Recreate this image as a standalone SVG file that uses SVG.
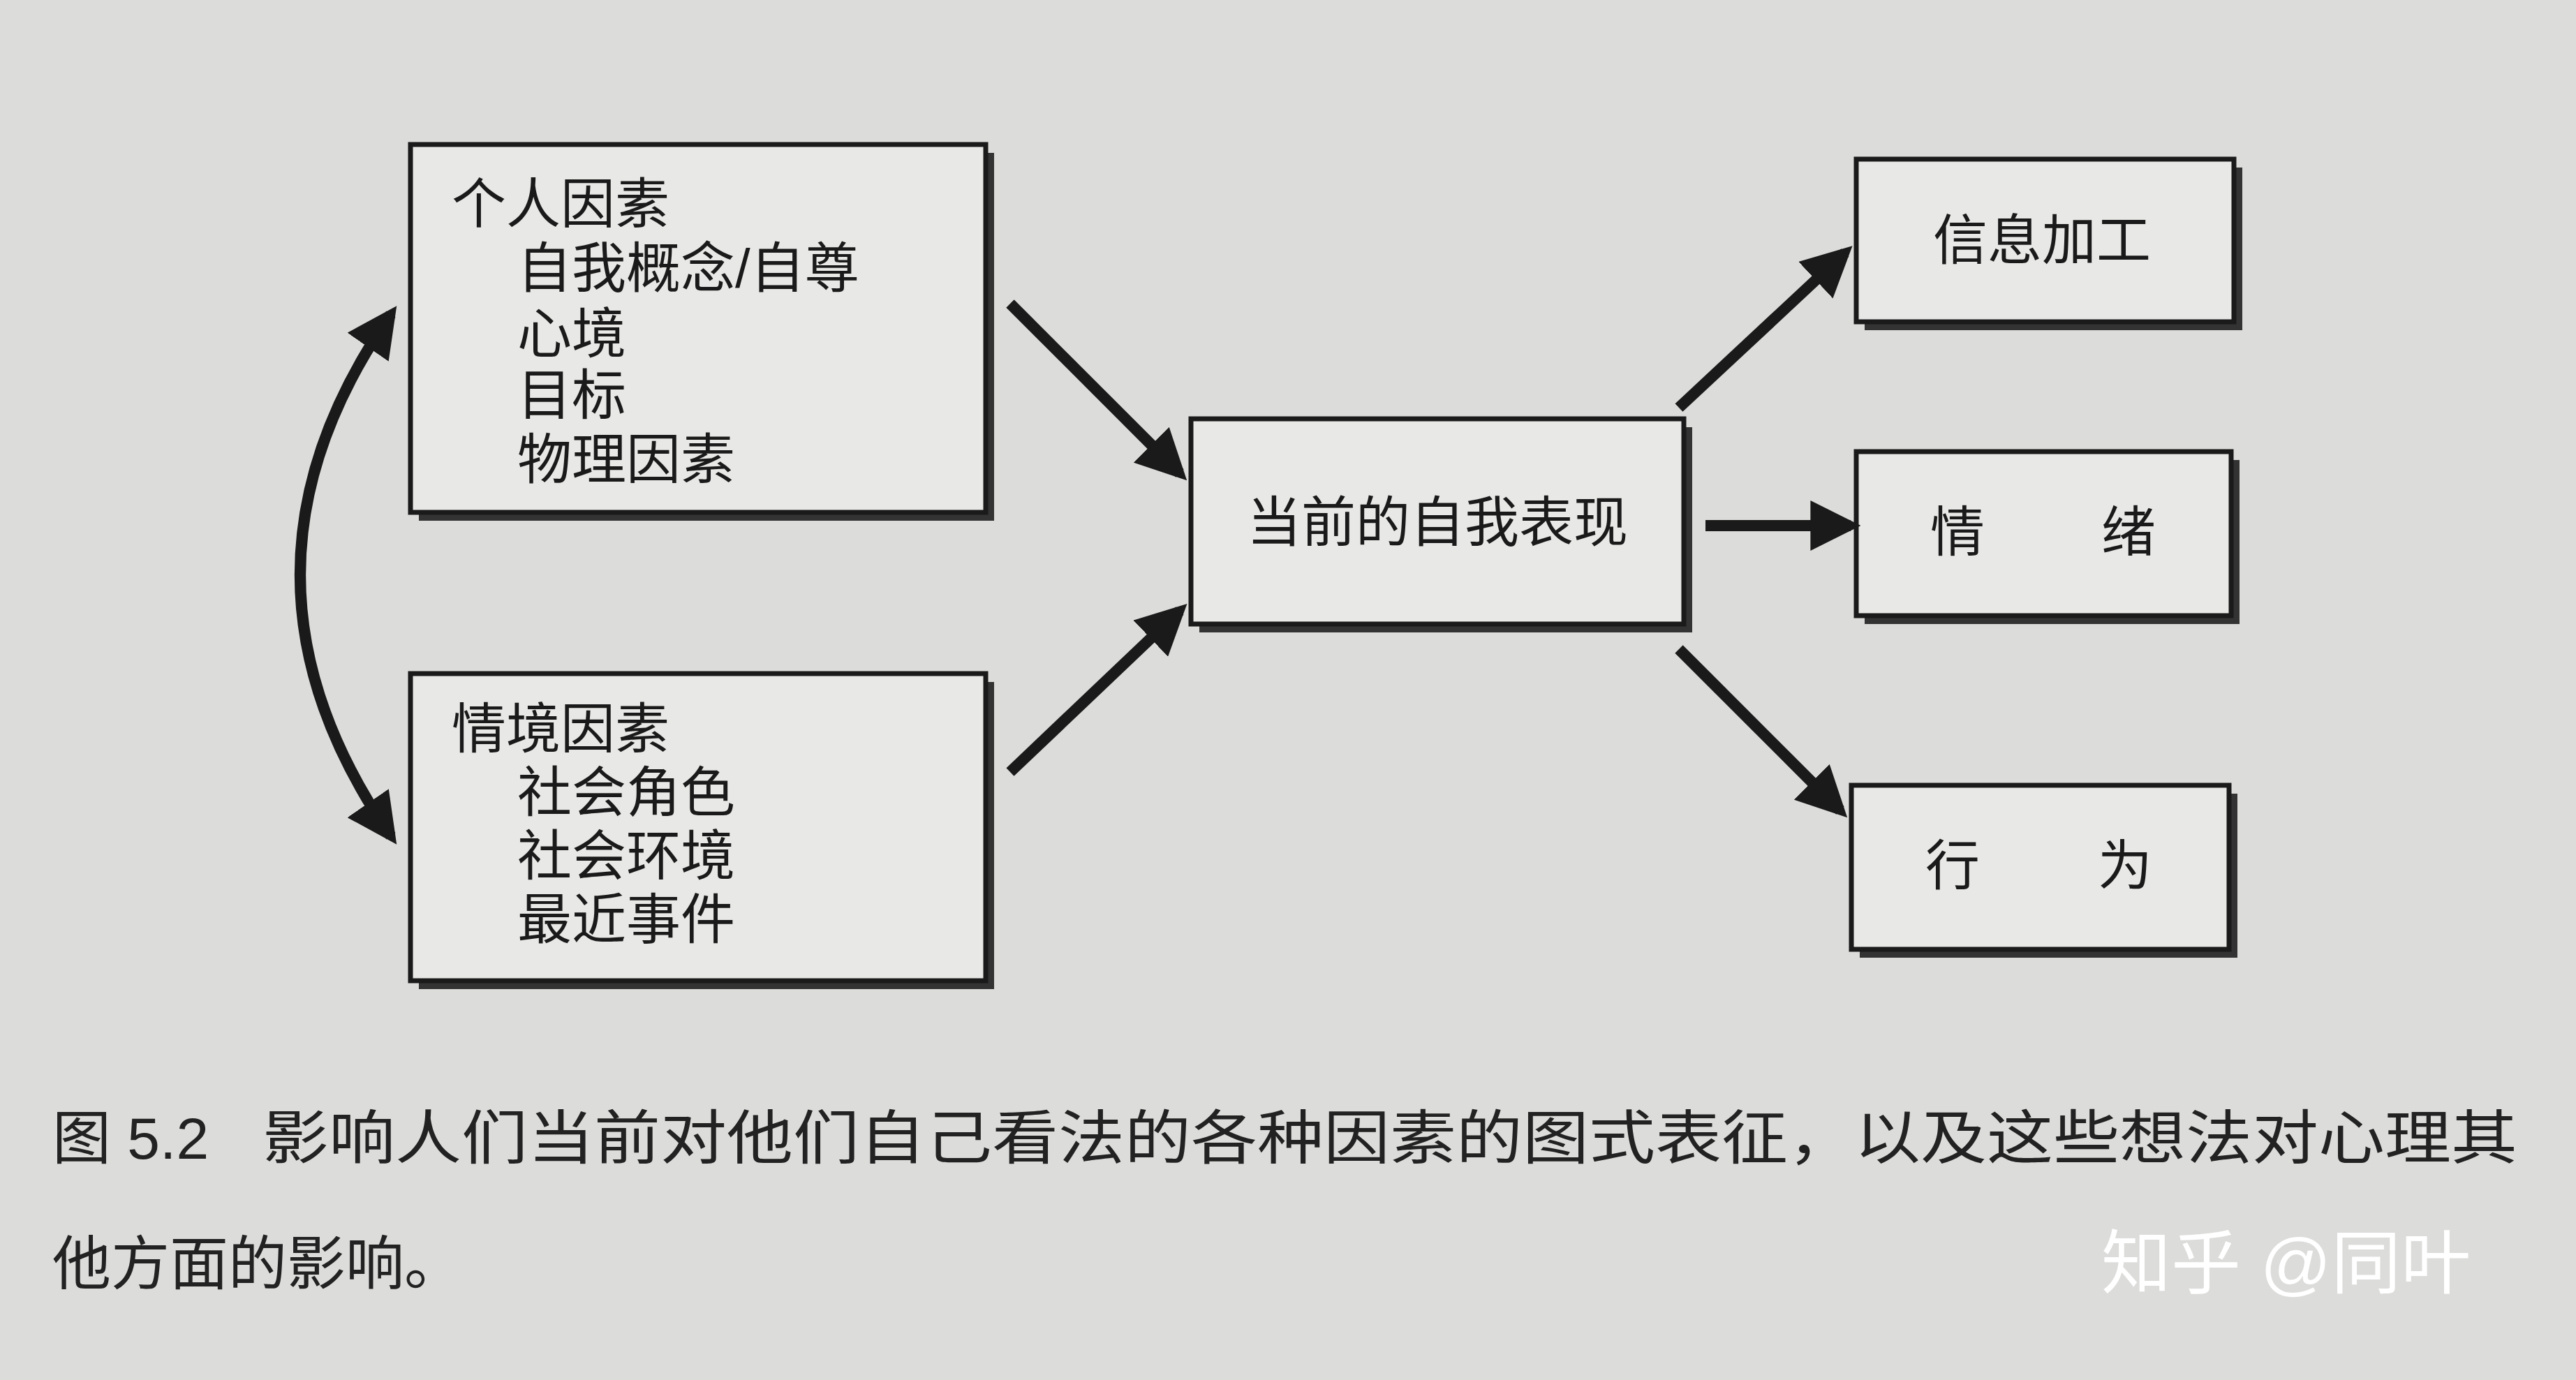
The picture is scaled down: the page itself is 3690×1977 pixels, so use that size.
<svg xmlns="http://www.w3.org/2000/svg" width="3690" height="1977" viewBox="0 0 3690 1977">
<defs>
<style>
.box{fill:#e8e8e6;stroke:#1a1a1a;stroke-width:7}
.sh{fill:#333}
.t{font-family:"Liberation Sans","Noto Sans CJK SC",sans-serif;font-size:78px;fill:#1a1a1a}
.c{font-family:"Liberation Sans","Noto Sans CJK SC",sans-serif;font-size:84px;fill:#222}
.a{stroke:#1a1a1a;stroke-width:16;fill:none;marker-end:url(#ah)}
</style>
<marker id="ah" viewBox="0 0 10 10" refX="8" refY="5" markerWidth="4.5" markerHeight="4.5" orient="auto-start-reverse"><path d="M0,0 L10,5 L0,10 Z" fill="#1a1a1a"/></marker>
</defs>
<rect width="3690" height="1977" fill="#dcdcda"/>
<g id="personal"><rect class="sh" x="600" y="219" width="824" height="527"/><rect class="box" x="588" y="207" width="824" height="527"/>
<text class="t" x="647" y="320">个人因素</text><text class="t" x="741" y="412">自我概念/自尊</text><text class="t" x="741" y="506">心境</text><text class="t" x="741" y="594">目标</text><text class="t" x="741" y="686">物理因素</text></g>
<g id="situational"><rect class="sh" x="600" y="977" width="824" height="440"/><rect class="box" x="588" y="965" width="824" height="440"/>
<text class="t" x="647" y="1072">情境因素</text><text class="t" x="741" y="1163">社会角色</text><text class="t" x="741" y="1254">社会环境</text><text class="t" x="741" y="1345">最近事件</text></g>
<g id="current"><rect class="sh" x="1718" y="612" width="706" height="294"/><rect class="box" x="1706" y="600" width="706" height="294"/>
<text class="t" x="2059" y="776" text-anchor="middle">当前的自我表现</text></g>
<g id="info"><rect class="sh" x="2671" y="240" width="541" height="233"/><rect class="box" x="2659" y="228" width="541" height="233"/>
<text class="t" x="2925" y="372" text-anchor="middle">信息加工</text></g>
<g id="emotion"><rect class="sh" x="2671" y="659" width="537" height="235"/><rect class="box" x="2659" y="647" width="537" height="235"/>
<text class="t" x="2765" y="790">情</text><text class="t" x="3010" y="790">绪</text></g>
<g id="behavior"><rect class="sh" x="2664" y="1137" width="541" height="235"/><rect class="box" x="2652" y="1125" width="541" height="235"/>
<text class="t" x="2758" y="1268">行</text><text class="t" x="3005" y="1268">为</text></g>
<g id="connectors">
<path class="a" d="M1447,435 L1690,678"/>
<path class="a" d="M1447,1106 L1690,875"/>
<path class="a" d="M2405,584 L2643,362"/>
<path class="a" d="M2443,753 L2651,753"/>
<path class="a" d="M2405,930 L2636,1161"/>
<path class="a" style="marker-start:url(#ah)" d="M560,450 Q300,823 560,1198"/>
</g>
<text class="c" x="75" y="1660" font-size="70">图 5.2</text>
<text class="c" x="376" y="1660" textLength="3230" lengthAdjust="spacingAndGlyphs">影响人们当前对他们自己看法的各种因素的图式表征，以及这些想法对心理其</text>
<text class="c" x="75" y="1840">他方面的影响。</text>
<text x="3010" y="1845" font-family="Liberation Sans,Noto Sans CJK SC,sans-serif" font-size="100" fill="#ffffff">知乎 @同叶</text>
</svg>
